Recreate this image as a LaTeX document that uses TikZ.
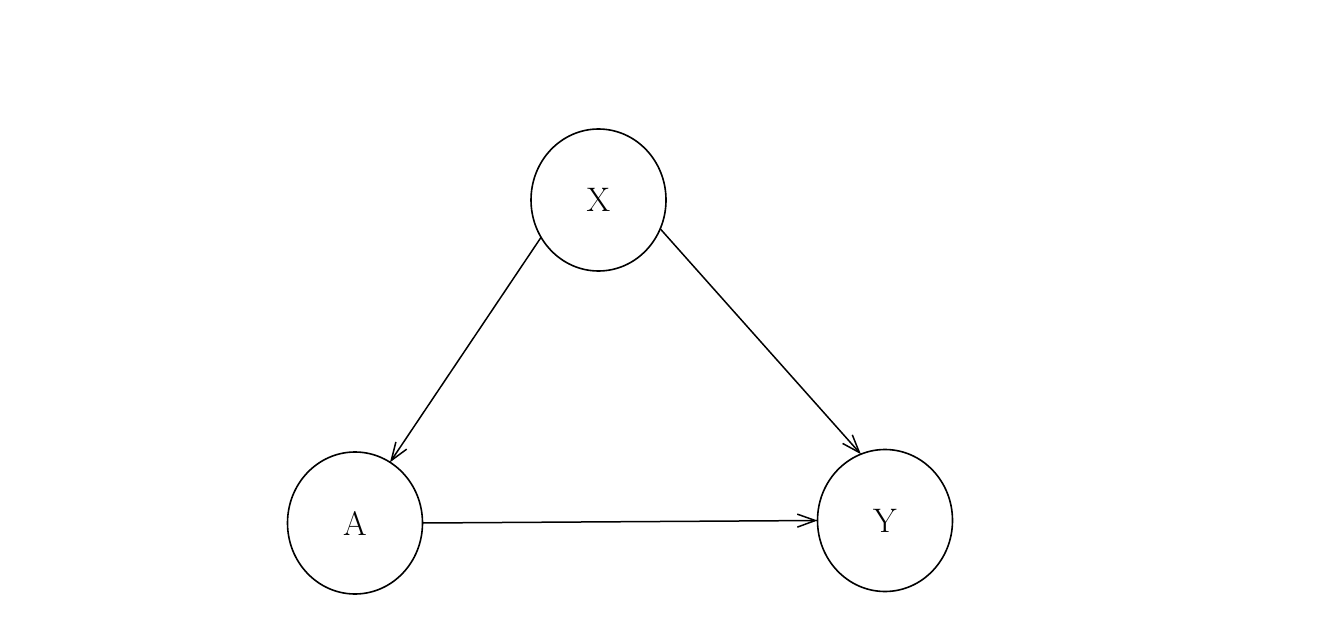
\documentclass[tikz,border=0pt]{standalone}
\usetikzlibrary{shapes.geometric,arrows.meta}
\begin{document}
\begin{tikzpicture}[x=1pt,y=-1pt,
  var/.style={draw,ellipse,line width=1.6pt,inner sep=0pt,outer sep=0pt,
    minimum width=135pt,minimum height=142pt,font=\fontsize{34}{40}\selectfont},
  edge/.style={line width=1.5pt,-{Straight Barb[length=18pt,width=13pt,line width=1.5pt]}}]
  \useasboundingbox (0,0) rectangle (1324,636);
  \node[var] (X) at (598.5,200) {X};
  \node[var] (A) at (355,523) {A};
  \node[var] (Y) at (885,520.5) {Y};
  \draw[edge] (X.213) -- (A.60);
  \draw[edge] (X.335.5) -- (Y.110.5);
  \draw[edge] (A.0) -- (Y.180);
\end{tikzpicture}
\end{document}
